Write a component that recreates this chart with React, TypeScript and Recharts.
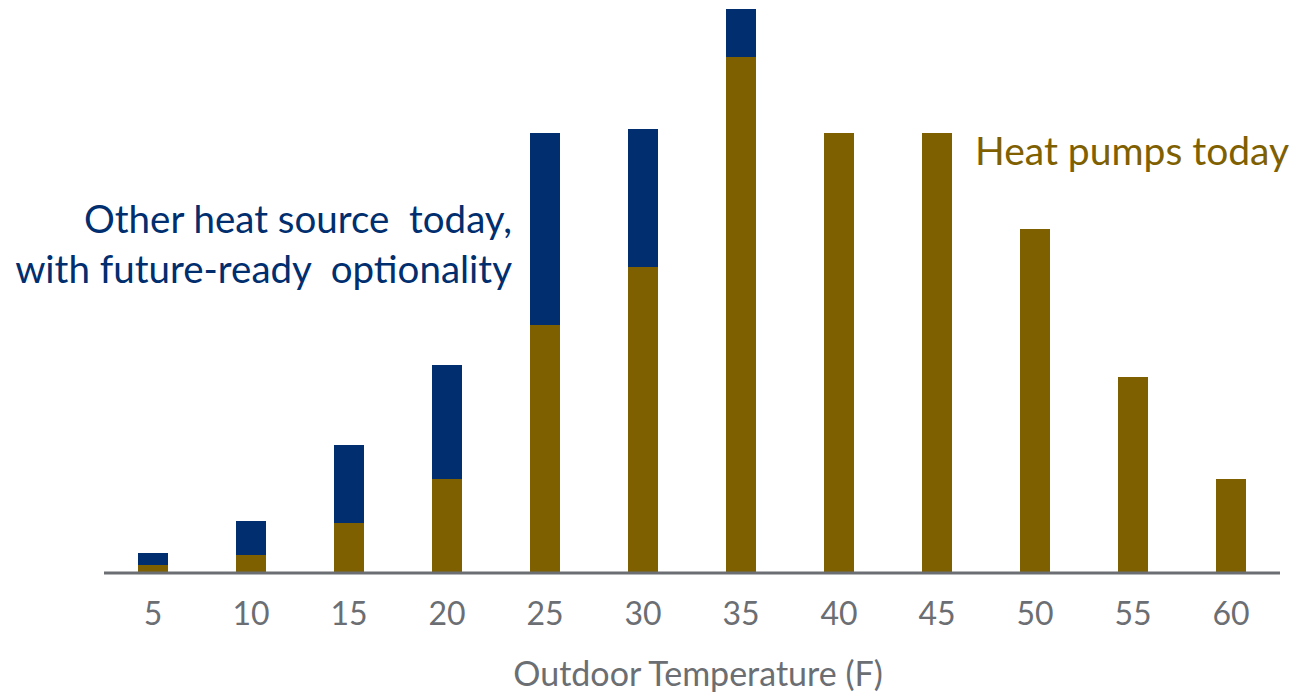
import { Bar, BarChart, Label, XAxis, YAxis } from 'recharts';

const temps = ['5', '10', '15', '20', '25', '30', '35', '40', '45', '50', '55', '60'];
const heatPumps = [8, 18, 50, 94, 248, 306, 516, 440, 440, 344, 196, 94];
const otherSource = [12, 34, 78, 114, 192, 138, 48, 0, 0, 0, 0, 0];

const data = temps.map((t, i) => ({
  temp: t,
  heatPumps: heatPumps[i],
  other: otherSource[i],
}));

const OLIVE = '#7f6000';
const NAVY = '#002e6e';
const GREY = '#6b6e72';
const FONT = 'Lato, "Open Sans", sans-serif';

const Tick = ({ x, y, payload }: any) => (
  <text x={x} y={y} dy={44} textAnchor='middle' fontSize={32} fill={GREY} fontFamily={FONT}>
    {payload.value}
  </text>
);

export default function App() {
  return (
    <div style={{ position: 'absolute', left: 0, top: 0, width: 1294, height: 698, background: '#fff' }}>
      <BarChart
        width={1294}
        height={698}
        data={data}
        margin={{ top: 9, right: 14, left: 104, bottom: 0 }}
      >
        <XAxis
          dataKey='temp'
          height={125}
          axisLine={{ stroke: GREY, strokeWidth: 3 }}
          tickLine={false}
          tick={<Tick />}
          interval={0}
        >
          <Label
            value='Outdoor Temperature (F)'
            position='insideBottom'
            offset={12}
            dx={6}
            fontSize={34}
            fill={GREY}
            fontFamily={FONT}
          />
        </XAxis>
        <YAxis hide domain={[0, 564]} />
        <Bar dataKey='heatPumps' stackId='a' fill={OLIVE} barSize={30} isAnimationActive={false} />
        <Bar dataKey='other' stackId='a' fill={NAVY} barSize={30} isAnimationActive={false} />
      </BarChart>
      <div
        style={{
          position: 'absolute',
          right: 782,
          top: 193,
          textAlign: 'right',
          color: NAVY,
          fontFamily: FONT,
          fontSize: 38.5,
          lineHeight: '50px',
          whiteSpace: 'pre',
        }}
      >
        {'Other heat source  today,\nwith future-ready  optionality'}
      </div>
      <div
        style={{
          position: 'absolute',
          left: 975,
          top: 128,
          color: OLIVE,
          fontFamily: FONT,
          fontSize: 39,
          lineHeight: '44px',
          whiteSpace: 'pre',
        }}
      >
        Heat pumps today
      </div>
    </div>
  );
}
